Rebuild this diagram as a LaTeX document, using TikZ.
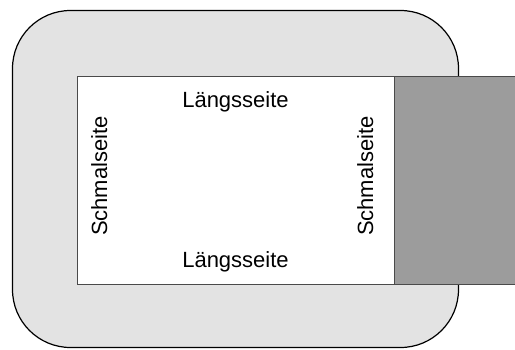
\documentclass[tikz,border=0pt]{standalone}
\usepackage{fontspec}
\setmainfont{Liberation Sans}
\definecolor{frame}{HTML}{E3E3E3}
\definecolor{block}{HTML}{9C9C9C}
\definecolor{edge}{HTML}{4A4A4A}
\begin{document}
\begin{tikzpicture}[x=1pt,y=-1pt,
  label text/.style={font=\fontsize{22}{26}\selectfont, inner sep=0pt, anchor=base},
  side text/.style={label text, rotate=90}]
\useasboundingbox (0,0) rectangle (515,349);
% rounded surround
\draw[fill=frame, draw=black, line width=1.2pt, rounded corners=58pt]
  (12.5,10.5) rectangle (458.5,347.5);
% inner field
\draw[fill=white, draw=edge, line width=1pt] (77,76) rectangle (394,284);
% dark block at the right, running off the edge
\fill[block] (394,76) rectangle (515,284);
\draw[edge, line width=1pt] (515,76) -- (394,76) -- (394,284) -- (515,284);
% labels
\node[label text] (top) at (235.5,107) {Längsseite};
\node[label text] (bottom) at (235.5,267) {Längsseite};
\node[side text] (left) at (107,176) {Schmalseite};
\node[side text] (right) at (373,176) {Schmalseite};
\end{tikzpicture}
\end{document}
